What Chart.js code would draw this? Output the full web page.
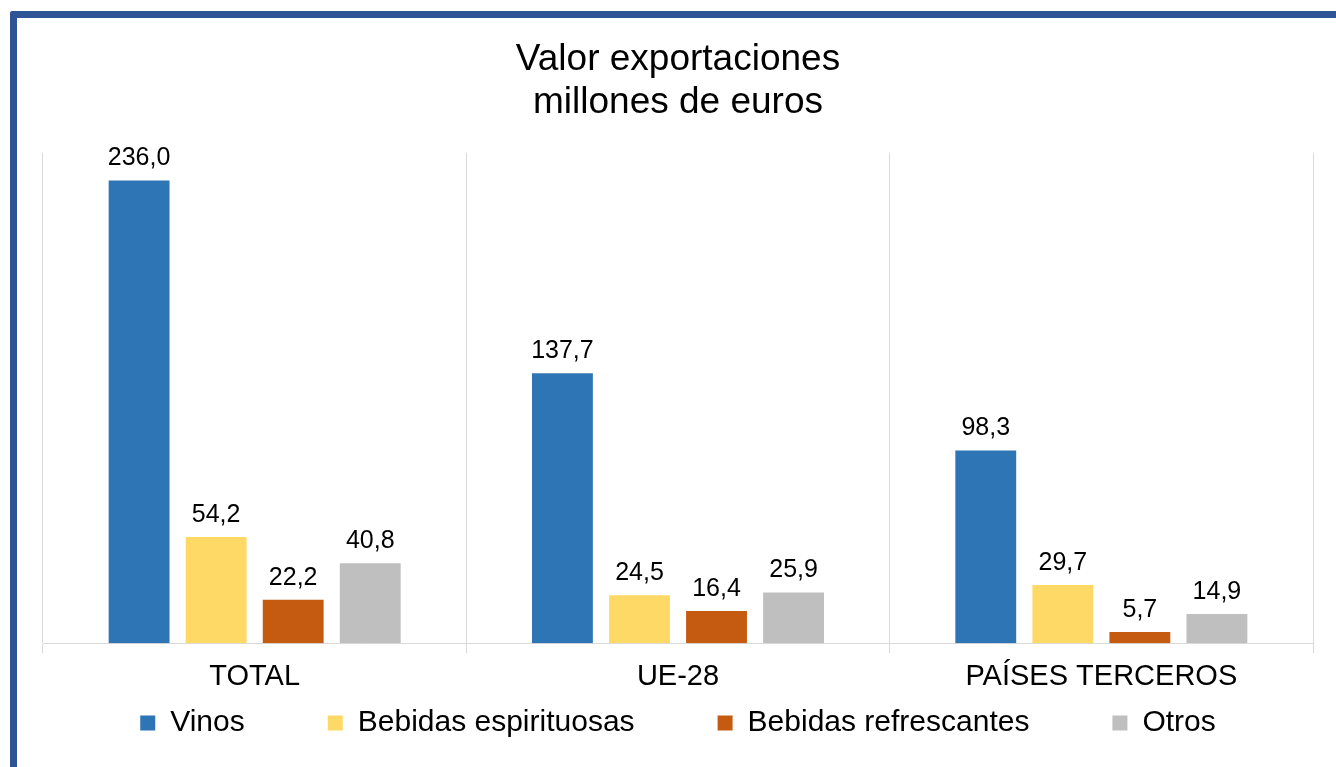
<!DOCTYPE html>
<html>
<head>
  <meta charset="utf-8">
  <script src="https://cdn.jsdelivr.net/npm/chart.js"></script>
  <style>
    body { margin: 0; background: #fff; }
    .frame {
      position: absolute;
      left: 10px;
      top: 11px;
      width: 1319px;
      height: 749px;
      border-top: 7px solid #2F5597;
      border-left: 7px solid #2F5597;
      border-top-left-radius: 3px;
      background: #fff;
    }
    canvas { display: block; }
  </style>
</head>
<body>
  <div class="frame">
    <canvas id="exportChart" width="1319" height="749"></canvas>
  </div>

  <script>
    // Export value by region, millions of euros
    var categories = ['TOTAL', 'UE-28', 'PAÍSES TERCEROS'];
    var vinos = [236.0, 137.7, 98.3];
    var espirituosas = [54.2, 24.5, 29.7];
    var refrescantes = [22.2, 16.4, 5.7];
    var otros = [40.8, 25.9, 14.9];

    var FONT = '"Liberation Sans", Arial, sans-serif';

    // Writes each bar's value above it, with a decimal comma
    var valueLabels = {
      id: 'valueLabels',
      afterDatasetsDraw: function(chart) {
        var ctx = chart.ctx;
        ctx.save();
        ctx.font = '25px ' + FONT;
        ctx.fillStyle = '#000';
        ctx.textAlign = 'center';
        ctx.textBaseline = 'alphabetic';
        chart.data.datasets.forEach(function(ds, i) {
          var meta = chart.getDatasetMeta(i);
          meta.data.forEach(function(bar, j) {
            var txt = ds.data[j].toFixed(1).replace('.', ',');
            ctx.fillText(txt, bar.x, bar.y - 15);
          });
        });
        ctx.restore();
      }
    };

    var canvas = document.getElementById('exportChart');
    new Chart(canvas, {
      type: 'bar',
      data: {
        labels: categories,
        datasets: [
          { label: 'Vinos', data: vinos, backgroundColor: '#2E75B6' },
          { label: 'Bebidas espirituosas', data: espirituosas, backgroundColor: '#FFD966' },
          { label: 'Bebidas refrescantes', data: refrescantes, backgroundColor: '#C55A11' },
          { label: 'Otros', data: otros, backgroundColor: '#BFBFBF' }
        ]
      },
      options: {
        responsive: false,
        animation: false,
        categoryPercentage: 0.728,
        barPercentage: 0.79,
        layout: {
          padding: { left: 26, right: 23, top: 0, bottom: 19 }
        },
        scales: {
          x: {
            grid: {
              color: '#D9D9D9',
              lineWidth: 1,
              tickLength: 10,
              offset: true
            },
            border: { color: '#D9D9D9' },
            ticks: {
              color: '#000',
              padding: 6,
              font: { family: FONT, size: 29 }
            }
          },
          y: {
            display: false,
            min: 0,
            max: 250
          }
        },
        plugins: {
          title: {
            display: true,
            text: ['Valor exportaciones', 'millones de euros'],
            color: '#000',
            font: { family: FONT, size: 37, weight: 'normal', lineHeight: 1.162 },
            padding: { top: 20, bottom: 29 }
          },
          legend: {
            position: 'bottom',
            labels: {
              color: '#000',
              boxWidth: 15,
              boxHeight: 15,
              padding: 8,
              font: { family: FONT, size: 30 },
              // widen the gap after every entry except the last
              generateLabels: function(chart) {
                var items = Chart.defaults.plugins.legend.labels.generateLabels(chart);
                items.forEach(function(item, i) {
                  item.lineWidth = 0;
                  if (i < items.length - 1) item.text += '         ';
                });
                return items;
              }
            }
          },
          tooltip: { enabled: false }
        }
      },
      plugins: [valueLabels]
    });
  </script>
</body>
</html>
